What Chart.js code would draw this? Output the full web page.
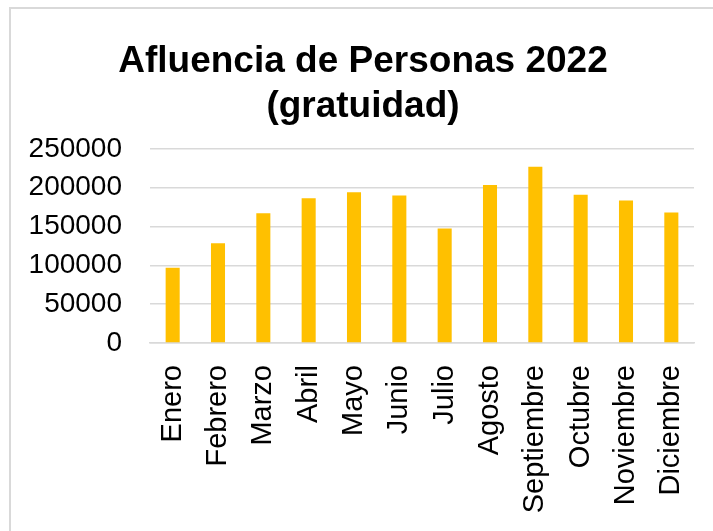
<!DOCTYPE html>
<html>
<head>
<meta charset="utf-8">
<script src="https://cdn.jsdelivr.net/npm/chart.js@4/dist/chart.umd.min.js"></script>
<style>
  html, body { margin: 0; padding: 0; background: #fff; }
  #wrap { position: relative; width: 713px; height: 531px; overflow: hidden; }
  #frame { position: absolute; left: 9px; top: 7px; width: 720px; height: 540px;
           border-left: 2px solid #d9d9d9; border-top: 2px solid #d9d9d9; }
  canvas { position: absolute; left: 0; top: 0; }
</style>
</head>
<body>
<div id="wrap">
  <div id="frame"></div>
  <canvas id="chart" width="713" height="531"></canvas>
</div>
<script>
Chart.defaults.font.family = '"Liberation Sans", Arial, sans-serif';
Chart.defaults.color = '#000';

//data
const months = ['Enero', 'Febrero', 'Marzo', 'Abril', 'Mayo', 'Junio',
    'Julio', 'Agosto', 'Septiembre', 'Octubre', 'Noviembre', 'Diciembre'];
const visitors = [97000, 128500, 167000, 186500, 194000, 190000,
    147500, 203500, 227000, 191000, 183500, 168000];
const titleLines = ['Afluencia de Personas 2022', '(gratuidad)'];

//setup
const data = {
    labels: months,
    datasets: [{
        label: 'Afluencia',
        data: visitors,
        backgroundColor: '#FFC000',
        barPercentage: 0.31,
        categoryPercentage: 1,
    }]
};

//options
const options = {
    responsive: false,
    animation: false,
    layout: {
        padding: { left: 13, right: 0, top: 0, bottom: 0 }
    },
    plugins: {
        legend: { display: false },
        tooltip: { enabled: false },
        title: {
            display: true,
            text: titleLines,
            color: '#000',
            font: { size: 37, weight: 'bold' },
            lineHeight: 1.17,
            padding: { top: 40, bottom: 20 }
        }
    },
    scales: {
        x: {
            grid: { display: false, drawTicks: false },
            border: { color: '#d9d9d9', width: 1.5 },
            ticks: {
                font: { size: 29 },
                minRotation: 90,
                maxRotation: 90,
                autoSkip: false,
                padding: 22
            },
            afterFit: s => {
                // fixed axis band under the plot, gap on the right
                s.height = 188;
                s.paddingLeft = 0;
                s.paddingRight = 19;
            }
        },
        y: {
            min: 0,
            max: 250000,
            grid: { color: '#d9d9d9', lineWidth: 1.5, drawTicks: false },
            border: { display: false },
            ticks: {
                stepSize: 50000,
                autoSkip: false,
                font: { size: 28 },
                padding: 28,
                callback: v => String(v)
            },
            afterFit: s => {
                s.width = 137;
            }
        }
    }
};

//render
const chart = new Chart(document.getElementById('chart'), {
    type: 'bar',
    data: data,
    options
});
</script>
</body>
</html>
